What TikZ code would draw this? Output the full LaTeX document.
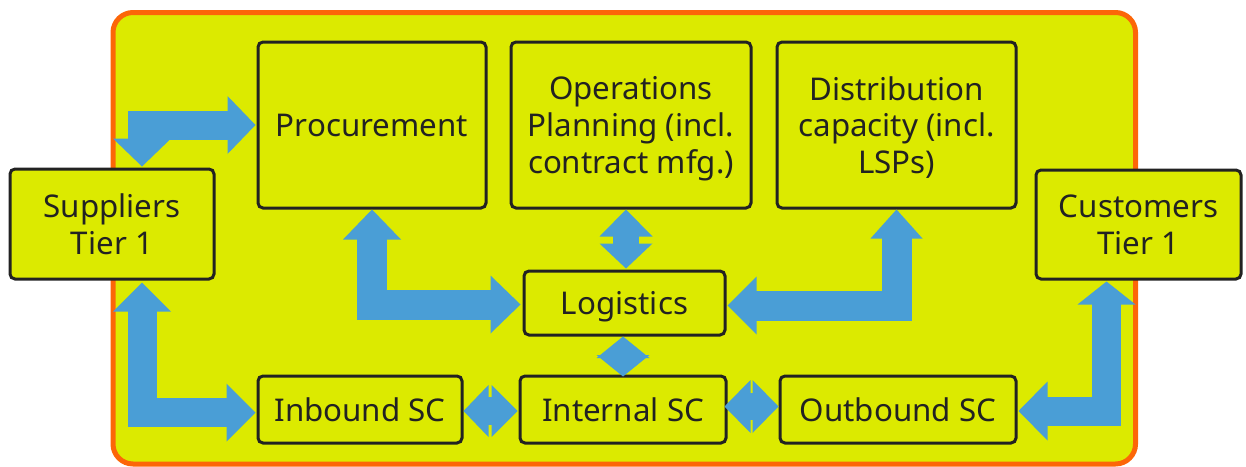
\documentclass[tikz,border=0pt]{standalone}
\usepackage{fontspec}
\setmainfont{Noto Sans}
\usetikzlibrary{calc}

\definecolor{panel}{RGB}{220,234,0}
\definecolor{rim}{RGB}{252,102,8}
\definecolor{flow}{RGB}{74,158,214}
\definecolor{ink}{RGB}{34,34,34}

\tikzset{
  unit/.style={draw=ink, line width=3pt, rounded corners=5pt, fill=panel,
    align=center, inner sep=0pt, text=ink,
    font=\fontsize{31.3}{36.8}\selectfont},
  % thick blue shaft of a block arrow; the heads are separate pics
  shaft/.style={draw=flow, line width=#1, line join=miter, line cap=butt},
  % filled arrow head, tip at the origin, pointing along +x
  pics/head/.style args={#1/#2}{code={
    \fill[flow] (0,0) -- (-#1,#2) -- (-#1,-#2) -- cycle;}},
}

\begin{document}
\begin{tikzpicture}[x=1pt,y=-1pt]
\useasboundingbox (0,0) rectangle (1246,466);

% panel
\draw[rim, fill=panel, line width=5pt, rounded corners=20pt]
  (113,12.5) rectangle (1135.5,464);

% boxes (descenders of the last line are kept out of the centring)
\node[unit, minimum width=204pt, minimum height=110pt] (sup)  at (112,224)    {Suppliers\\Tier 1};
\node[unit, minimum width=228pt, minimum height=166pt] (proc) at (372,125)    {Procurement};
\node[unit, minimum width=240pt, minimum height=166pt] (ops)  at (631,125)    {Operations\\Planning (incl.\\\smash{contract mfg.)}};
\node[unit, minimum width=239pt, minimum height=166pt] (dist) at (896.5,125)  {Distribution\\capacity (incl.\\\smash{LSPs)}};
\node[unit, minimum width=205pt, minimum height=109pt] (cust) at (1138.5,224.5) {Customers\\Tier 1};
\node[unit, minimum width=201pt, minimum height=64pt, text depth=0pt] (logi) at (624.5,303)  {Logistics};
\node[unit, minimum width=204pt, minimum height=67pt]  (inb)  at (360,409.5)  {Inbound SC};
\node[unit, minimum width=206pt, minimum height=67pt]  (intl) at (623,409.5)  {Internal SC};
\node[unit, minimum width=236pt, minimum height=67pt]  (outb) at (898,409.5)  {Outbound SC};

% anchor points of the block arrows
\coordinate (supTop) at ($(sup.north)+(30,-1)$);
\coordinate (supBot) at ($(sup.south)+(30,2)$);
\coordinate (inbIn)  at ($(inb.west)+(-1,3)$);
\coordinate (proIn)  at ($(proc.west)+(-1,0)$);
\coordinate (logW)   at ($(logi.west)+(-2,1.5)$);
\coordinate (logE)   at ($(logi.east)+(1,2.5)$);
\coordinate (custB)  at ($(cust.south)+(-32,1)$);
\coordinate (outE)   at ($(outb.east)+(1,1.5)$);
\coordinate (opsB)   at ($(logi.north |- ops.south)+(1.5,0)$);
\coordinate (logN)   at ($(logi.north)+(1.5,-1)$);
\coordinate (logS)   at ($(logi.south)+(-1.5,0)$);
\coordinate (intN)   at ($(intl.north)+(0,2)$);
\coordinate (inbE)   at ($(inb.east)+(0,1.5)$);
\coordinate (intW)   at ($(intl.west)+(-1,1.5)$);
\coordinate (intE)   at ($(intl.east)+(-3,-3)$);
\coordinate (outW)   at ($(outb.west)+(0,-3)$);

% suppliers <-> procurement
\draw[shaft=29pt, shorten <=27pt, shorten >=27pt] (supTop) |- (proIn);
\pic[rotate=-90] at (supTop) {head=28/29};
\pic at (proIn) {head=28/29};

% suppliers <-> inbound SC
\draw[shaft=29pt, shorten <=27pt, shorten >=27pt] (supBot) |- (inbIn);
\pic[rotate=90] at (supBot) {head=29/29};
\pic at (inbIn) {head=29/29};

% procurement <-> logistics
\draw[shaft=30pt, shorten <=27pt, shorten >=27pt] (proc.south) |- (logW);
\pic[rotate=90] at (proc.south) {head=30/29};
\pic at (logW) {head=30/29};

% distribution <-> logistics
\draw[shaft=30pt, shorten <=27pt, shorten >=27pt] (dist.south) |- (logE);
\pic[rotate=90] at (dist.south) {head=29/26};
\pic[rotate=180] at (logE) {head=29/29};

% customers <-> outbound SC
\draw[shaft=29pt, shorten <=22pt, shorten >=27pt] (custB) |- (outE);
\pic[rotate=90] at (custB) {head=23/29};
\pic[rotate=180] at (outE) {head=29/29.5};

% operations planning <-> logistics
\draw[shaft=26pt, shorten <=25pt, shorten >=24pt] (opsB) -- (logN);
\pic[rotate=90] at (opsB) {head=27/26.5};
\pic[rotate=-90] at (logN) {head=25/26.5};

% logistics <-> internal SC
\pic[rotate=90] at (logS) {head=21.5/26.5};
\pic[rotate=-90] at (intN) {head=21.5/26.5};

% inbound SC <-> internal SC
\draw[shaft=28pt, shorten <=24pt, shorten >=24pt] (inbE) -- (intW);
\pic[rotate=180] at (inbE) {head=25/26};
\pic at (intW) {head=26/26};

% internal SC <-> outbound SC
\draw[shaft=27pt, shorten <=25pt, shorten >=25pt] (intE) -- (outW);
\pic[rotate=180] at (intE) {head=26/26.5};
\pic at (outW) {head=26/26.5};
\end{tikzpicture}
\end{document}
